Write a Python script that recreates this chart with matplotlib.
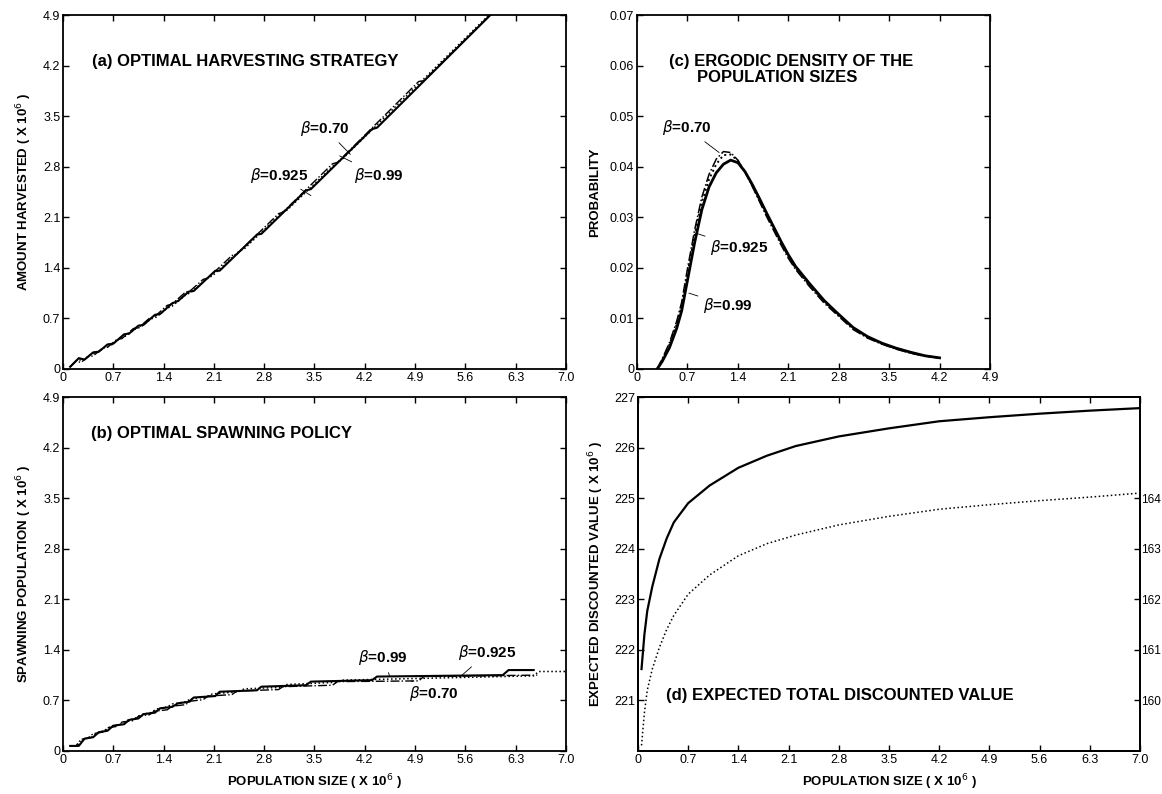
import matplotlib
matplotlib.use("Agg")
import matplotlib.pyplot as plt

plt.rcParams['font.family'] = ['Liberation Sans', 'DejaVu Sans']
plt.rcParams['mathtext.fontset'] = 'dejavusans'

# ---- (a) / (b) policy curves, one vertex list per discount factor ----
spawn_x_099 = [0.10, 0.22, 0.30, 0.42, 0.50, 0.62, 0.70, 0.85, 0.92, 1.05, 1.12, 1.28, 1.35,
               1.52, 1.60, 1.75, 1.82, 2.12, 2.18, 2.70, 2.76, 3.38, 3.45, 4.30, 4.37, 6.12,
               6.20, 6.55]
spawn_y_099 = [0.07, 0.07, 0.17, 0.19, 0.26, 0.28, 0.35, 0.37, 0.43, 0.45, 0.51, 0.53, 0.59,
               0.61, 0.66, 0.68, 0.74, 0.76, 0.82, 0.84, 0.89, 0.91, 0.96, 0.98, 1.03, 1.05,
               1.12, 1.12]
spawn_x_0925 = [0.10, 0.20, 0.28, 0.40, 0.47, 0.58, 0.66, 0.80, 0.88, 1.00, 1.08, 1.22, 1.30,
                1.45, 1.52, 1.70, 1.78, 2.00, 2.08, 2.45, 2.52, 3.05, 3.12, 3.80, 3.88, 6.55,
                6.62, 7.00]
spawn_y_0925 = [0.07, 0.07, 0.16, 0.19, 0.25, 0.28, 0.34, 0.37, 0.42, 0.45, 0.50, 0.53, 0.58,
                0.61, 0.65, 0.68, 0.72, 0.75, 0.79, 0.82, 0.86, 0.88, 0.92, 0.95, 0.98, 1.04,
                1.10, 1.10]
spawn_x_070 = [0.10, 0.18, 0.25, 0.35, 0.42, 0.55, 0.62, 0.75, 0.82, 0.98, 1.05, 1.20, 1.27,
               1.45, 1.52, 1.70, 1.78, 1.95, 2.02, 2.35, 2.42, 3.00, 3.06, 3.75, 3.82, 4.95,
               5.02, 6.60]
spawn_y_070 = [0.07, 0.07, 0.16, 0.18, 0.24, 0.26, 0.32, 0.34, 0.40, 0.42, 0.48, 0.50, 0.55,
               0.57, 0.62, 0.64, 0.69, 0.71, 0.76, 0.78, 0.83, 0.85, 0.89, 0.91, 0.96, 0.97,
               1.03, 1.05]

harvest_y_099 = [0.03, 0.15, 0.13, 0.23, 0.24, 0.34, 0.35, 0.48, 0.49, 0.60, 0.61, 0.75, 0.76,
                 0.91, 0.94, 1.07, 1.08, 1.36, 1.36, 1.86, 1.87, 2.47, 2.49, 3.32, 3.34, 5.07,
                 5.08, 5.43]
harvest_y_0925 = [0.03, 0.13, 0.12, 0.21, 0.22, 0.30, 0.32, 0.43, 0.46, 0.55, 0.58, 0.69, 0.72,
                  0.84, 0.87, 1.02, 1.06, 1.25, 1.29, 1.63, 1.66, 2.17, 2.20, 2.85, 2.90, 5.51,
                  5.52, 5.90]
harvest_y_070 = [0.03, 0.11, 0.09, 0.17, 0.18, 0.29, 0.30, 0.41, 0.42, 0.56, 0.57, 0.70, 0.72,
                 0.88, 0.90, 1.06, 1.09, 1.24, 1.26, 1.57, 1.59, 2.15, 2.17, 2.84, 2.86, 3.98,
                 3.99, 5.55]

# ---- (c) ergodic density ----
dens_x = [0.28, 0.35, 0.45, 0.55, 0.62, 0.70, 0.80, 0.90, 1.00, 1.10, 1.20, 1.30, 1.40, 1.50,
          1.60, 1.70, 1.80, 1.90, 2.00, 2.10, 2.20, 2.40, 2.60, 2.80, 3.00, 3.20, 3.40, 3.60,
          3.80, 4.00, 4.20]
dens_099 = [0.0, 0.0015, 0.0042, 0.0080, 0.0115, 0.0175, 0.0250, 0.0315, 0.0360, 0.0388,
            0.0405, 0.0413, 0.0408, 0.0390, 0.0365, 0.0337, 0.0308, 0.0280, 0.0252, 0.0226,
            0.0203, 0.0168, 0.0135, 0.0108, 0.0082, 0.0064, 0.0051, 0.0041, 0.0033, 0.0026,
            0.0022]
dens_0925 = [0.0, 0.0018, 0.0048, 0.0088, 0.0125, 0.0188, 0.0265, 0.0330, 0.0375, 0.0405,
             0.0423, 0.0424, 0.0412, 0.0390, 0.0363, 0.0334, 0.0305, 0.0277, 0.0249, 0.0223,
             0.0200, 0.0165, 0.0133, 0.0106, 0.0080, 0.0063, 0.0050, 0.0040, 0.0032, 0.0026,
             0.0022]
dens_070 = [0.0, 0.0020, 0.0052, 0.0094, 0.0132, 0.0198, 0.0275, 0.0340, 0.0385, 0.0415,
            0.0430, 0.0428, 0.0413, 0.0389, 0.0361, 0.0331, 0.0301, 0.0273, 0.0245, 0.0219,
            0.0197, 0.0162, 0.0130, 0.0104, 0.0078, 0.0061, 0.0049, 0.0039, 0.0031, 0.0025,
            0.0022]

# ---- (d) expected total discounted value ----
value_x = [0.05, 0.09, 0.13, 0.20, 0.30, 0.40, 0.50, 0.70, 1.00, 1.40, 1.80, 2.20, 2.80,
           3.50, 4.20, 4.90, 5.60, 6.30, 7.00]
value_left = [221.62, 222.30, 222.77, 223.25, 223.80, 224.20, 224.52, 224.90, 225.25, 225.60,
              225.84, 226.03, 226.22, 226.38, 226.52, 226.60, 226.67, 226.73, 226.78]
value_right = [159.11, 159.75, 160.20, 160.62, 161.05, 161.40, 161.68, 162.10, 162.48, 162.86,
               163.10, 163.27, 163.47, 163.64, 163.78, 163.87, 163.95, 164.02, 164.10]

pop_ticks = [0, 0.7, 1.4, 2.1, 2.8, 3.5, 4.2, 4.9, 5.6, 6.3, 7.0]
pop_labels = ['0', '0.7', '1.4', '2.1', '2.8', '3.5', '4.2', '4.9', '5.6', '6.3', '7.0']
prob_ticks = [0, 0.01, 0.02, 0.03, 0.04, 0.05, 0.06, 0.07]
prob_labels = ['0', '0.01', '0.02', '0.03', '0.04', '0.05', '0.06', '0.07']
left_ticks = [221, 222, 223, 224, 225, 226, 227]
right_ticks = [160, 161, 162, 163, 164]

TICK_FS = 9
LABEL_FS = 9.5
TITLE_FS = 12


def style_axes(ax):
    for sp in ax.spines.values():
        sp.set_linewidth(1.3)
    ax.tick_params(direction='in', length=4, width=1, labelsize=TICK_FS,
                   top=True, right=True, pad=2)


def beta_label(ax, text, xy, xytext):
    ax.annotate(r'$\beta$' + text, xy=xy, xytext=xytext, fontsize=11, fontweight='bold',
                ha='left', va='center',
                arrowprops=dict(arrowstyle='-', lw=0.6, color='black', shrinkA=2, shrinkB=0))


fig = plt.figure(figsize=(11.62, 7.94), dpi=100)

ax_a = fig.add_axes([0.0542, 0.5353, 0.4329, 0.4458])
ax_b = fig.add_axes([0.0542, 0.0542, 0.4329, 0.4458])
ax_c = fig.add_axes([0.5482, 0.5353, 0.3038, 0.4458])
ax_d = fig.add_axes([0.5490, 0.0542, 0.4320, 0.4458])

# (a)
ax_a.plot(spawn_x_099, harvest_y_099, '-', color='black', lw=1.5)
ax_a.plot(spawn_x_0925, harvest_y_0925, ':', color='black', lw=1.1)
ax_a.plot(spawn_x_070, harvest_y_070, '-.', color='black', lw=1.0)
ax_a.set_xlim(0, 7.0)
ax_a.set_ylim(0, 4.9)
ax_a.set_xticks(pop_ticks, pop_labels)
ax_a.set_yticks(pop_ticks[:8], pop_labels[:8])
ax_a.set_ylabel(r'AMOUNT HARVESTED ( X 10$^{6}$ )', fontsize=LABEL_FS, fontweight='bold',
                labelpad=6)
ax_a.text(0.40, 4.26, '(a) OPTIMAL HARVESTING STRATEGY', fontsize=TITLE_FS,
          fontweight='bold', va='center')
beta_label(ax_a, '=0.70', (4.0, 2.97), (3.30, 3.33))
beta_label(ax_a, '=0.925', (3.45, 2.40), (2.60, 2.68))
beta_label(ax_a, '=0.99', (3.85, 2.95), (4.05, 2.68))
style_axes(ax_a)

# (b)
ax_b.plot(spawn_x_099, spawn_y_099, '-', color='black', lw=1.5)
ax_b.plot(spawn_x_0925, spawn_y_0925, ':', color='black', lw=1.1)
ax_b.plot(spawn_x_070, spawn_y_070, '-.', color='black', lw=1.0)
ax_b.set_xlim(0, 7.0)
ax_b.set_ylim(0, 4.9)
ax_b.set_xticks(pop_ticks, pop_labels)
ax_b.set_yticks(pop_ticks[:8], pop_labels[:8])
ax_b.set_ylabel(r'SPAWNING POPULATION ( X 10$^{6}$ )', fontsize=LABEL_FS, fontweight='bold',
                labelpad=6)
ax_b.set_xlabel(r'POPULATION SIZE ( X 10$^{6}$ )', fontsize=LABEL_FS, fontweight='bold',
                labelpad=5)
ax_b.text(0.39, 4.39, '(b) OPTIMAL SPAWNING POLICY', fontsize=TITLE_FS,
          fontweight='bold', va='center')
beta_label(ax_b, '=0.99', (4.55, 1.03), (4.10, 1.29))
beta_label(ax_b, '=0.925', (5.52, 1.02), (5.50, 1.36))
beta_label(ax_b, '=0.70', (4.85, 0.97), (4.82, 0.79))
style_axes(ax_b)

# (c)
ax_c.plot(dens_x, dens_099, '-', color='black', lw=2.0)
ax_c.plot(dens_x, dens_0925, ':', color='black', lw=1.4)
ax_c.plot(dens_x, dens_070, '-.', color='black', lw=1.1)
ax_c.set_xlim(0, 4.9)
ax_c.set_ylim(0, 0.07)
ax_c.set_xticks(pop_ticks[:8], pop_labels[:8])
ax_c.set_yticks(prob_ticks, prob_labels)
ax_c.set_ylabel('PROBABILITY', fontsize=LABEL_FS, fontweight='bold', labelpad=6)
ax_c.text(0.44, 0.0608, '(c) ERGODIC DENSITY OF THE', fontsize=TITLE_FS,
          fontweight='bold', va='center')
ax_c.text(0.83, 0.0577, 'POPULATION SIZES', fontsize=TITLE_FS, fontweight='bold',
          va='center')
beta_label(ax_c, '=0.70', (1.14, 0.0428), (0.34, 0.0477))
beta_label(ax_c, '=0.925', (0.83, 0.0268), (1.02, 0.0240))
beta_label(ax_c, '=0.99', (0.72, 0.0150), (0.92, 0.0125))
style_axes(ax_c)

# (d)
ax_d.plot(value_x, value_left, '-', color='black', lw=1.6)
ax_d.set_xlim(0, 7.0)
ax_d.set_ylim(220, 227)
ax_d.set_xticks(pop_ticks, pop_labels)
ax_d.set_yticks(left_ticks)
ax_d.set_ylabel(r'EXPECTED DISCOUNTED VALUE ( X 10$^{6}$ )', fontsize=LABEL_FS,
                fontweight='bold', labelpad=6)
ax_d.set_xlabel(r'POPULATION SIZE ( X 10$^{6}$ )', fontsize=LABEL_FS, fontweight='bold',
                labelpad=5)
ax_d.text(0.39, 221.1, '(d) EXPECTED TOTAL DISCOUNTED VALUE', fontsize=TITLE_FS,
          fontweight='bold', va='center')
style_axes(ax_d)
ax_d.tick_params(right=False)

ax_r = ax_d.twinx()
ax_r.plot(value_x, value_right, ':', color='black', lw=1.1)
ax_r.set_ylim(159, 166)
ax_r.set_yticks(right_ticks)
ax_r.tick_params(direction='in', length=4, width=1, labelsize=8.5, pad=1)
for sp in ax_r.spines.values():
    sp.set_linewidth(1.3)

fig.savefig('out.png', dpi=100, facecolor='white')
